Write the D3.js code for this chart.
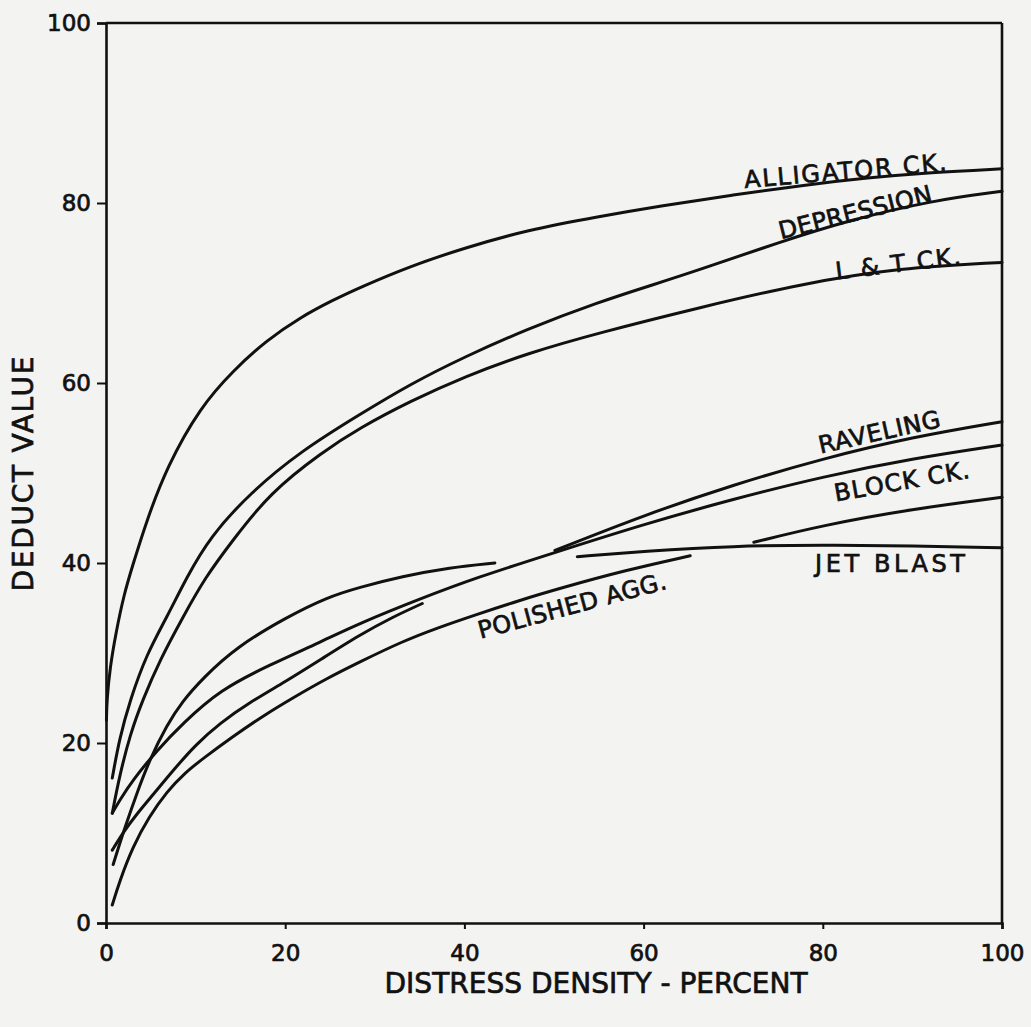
<!DOCTYPE html>
<html>
<head>
<meta charset="utf-8">
<script src="https://cdn.jsdelivr.net/npm/d3@7"></script>
<style>
  html, body { margin: 0; padding: 0; background: #f3f3f1; }
  svg { display: block; }
  text { font-family: "DejaVu Sans", "Liberation Sans", sans-serif; fill: #111; stroke: #111; stroke-width: 0.7px; }
</style>
</head>
<body>
<svg id="chart" width="1031" height="1027"></svg>
<script>
// Deduct value curves for asphalt-surfaced airfield pavements.
// Each series is [distress density %, deduct value]; null marks a break where
// the drafted curve is interrupted to let another curve cross.
const alligatorCk = [[0.05,22.5],[0.1,24.8],[0.45,28.4],[1.1,32.2],[2,36.5],[3,39.8],[4.5,44.6],
  [6.8,50.7],[10.5,57.3],[14.2,61.4],[18,64.8],[21.7,67.3],[25.3,69.2],[28.3,70.6],[34,73],
  [40,75],[47,77],[55,78.5],[62,79.7],[70,80.9],[78,82],[85,82.8],[92,83.4],[100,83.8]];

const depression = [[0.7,16.1],[1.5,20.5],[2.7,24.8],[4.5,29.8],[6.8,34],[9,38.4],[11.6,42.9],
  [16.1,47.8],[21.7,52.4],[28.3,56.5],[34,59.9],[40,62.9],[47,66],[55,69],[61,70.9],
  [66.3,72.6],[75,75.6],[83,78.1],[92.3,80.3],[100,81.3]];

const ltCk = [[0.7,12.2],[1.5,16.3],[2.7,21],[4.1,24.8],[6,29.2],[8.6,34],[11,38.3],[14.2,42.6],
  [18.3,47.8],[24.1,52.3],[28.3,55],[34,58],[40,60.7],[47,63.3],[55.1,65.6],[66.3,68.4],
  [77.5,71],[88.6,72.8],[100,73.4]];

const raveling = [[0.7,8.1],[2,10.2],[3.5,12.2],[5.2,14.2],[7.7,17.2],[10,19.8],[12.7,22.2],
  [16,24.5],[20,26.8],[24,29.3],[28.3,32],[32,34],[35.3,35.5], null,
  [50.1,41.4],[60,45.3],[70,48.7],[80,51.6],[90,54],[100,55.7]];

const blockCk = [[0.7,12.2],[1.5,13.6],[3,15.9],[5.7,19.2],[8.6,22.2],[12.7,25.9],[18.3,28.7],
  [23.9,31.2],[28.3,33.3],[35,36],[41.4,38.4],[49.9,41.1],[60,44.3],[70,47.1],[80,49.6],
  [90,51.6],[100,53.1]];

const jetBlast = [[0.8,6.5],[2,10.3],[3.5,14.6],[4.9,18.2],[6.8,22],[8.5,24.6],[10.8,27.2],
  [14.6,30.7],[20.2,34],[24.7,36.2],[28.3,37.3],[33,38.5],[38.4,39.5],[43.4,40], null,
  [52.6,40.7],[60,41.3],[70,41.9],[80,42],[90,41.9],[100,41.7]];

const polishedAgg = [[0.7,2],[1.5,4.6],[3,8.5],[4.8,11.8],[6.8,14.6],[8.8,16.7],[11,18.4],
  [14,20.6],[17.5,23],[21,25.1],[24.5,27.1],[28.3,29],[33.1,31.3],[37,32.8],[41.4,34.3],
  [46,35.8],[50.7,37.2],[58,39.2],[65.2,40.8], null,
  [72.3,42.3],[80,44.2],[90,46],[100,47.3]];

const curveNames = ["ALLIGATOR CK.", "DEPRESSION", "L & T CK.", "RAVELING", "BLOCK CK.", "JET BLAST", "POLISHED AGG."];
const xTicks = [0, 20, 40, 60, 80, 100];
const yTicks = [0, 20, 40, 60, 80, 100];
const xTitle = "DISTRESS DENSITY - PERCENT";
const yTitle = "DEDUCT VALUE";

const series = [alligatorCk, depression, ltCk, raveling, blockCk, jetBlast, polishedAgg]
  .map((values, i) => ({ name: curveNames[i], values }));

// Where each curve name sits (data units), its tilt and its set length in px.
const labelPlacement = {
  "ALLIGATOR CK.": { x: 82.5, y: 83.6, angle: -5,  length: 203 },
  "DEPRESSION":    { x: 83.6, y: 79.0, angle: -14, length: 157 },
  "L & T CK.":     { x: 88.4, y: 73.3, angle: -7,  length: 126 },
  "RAVELING":      { x: 86.3, y: 54.6, angle: -12.5, length: 124 },
  "BLOCK CK.":     { x: 88.8, y: 49.1, angle: -10, length: 137 },
  "JET BLAST":     { x: 87.5, y: 40.0, angle: 0,   length: 150 },
  "POLISHED AGG.": { x: 52.0, y: 35.3, angle: -15, length: 194 }
};

const ink = "#111";
const svg = d3.select("#chart");
const x = d3.scaleLinear().domain([0, 100]).range([106, 1002]);
const y = d3.scaleLinear().domain([0, 100]).range([923, 23]);

// Left and bottom axes
const yAxis = svg.append("g")
  .attr("transform", `translate(${x(0)},0)`)
  .call(d3.axisLeft(y).tickValues(yTicks).tickSize(9).tickPadding(6).tickFormat(d3.format("d")));
const xAxis = svg.append("g")
  .attr("transform", `translate(0,${y(0)})`)
  .call(d3.axisBottom(x).tickValues(xTicks).tickSize(6).tickPadding(16).tickFormat(d3.format("d")));

[yAxis, xAxis].forEach(g => {
  g.select(".domain").attr("stroke", ink).attr("stroke-width", 2.6);
  g.selectAll(".tick line").attr("stroke", ink).attr("stroke-width", 2);
  g.selectAll(".tick text").attr("font-size", 23).attr("fill", ink)
    .style("font-family", '"DejaVu Sans", sans-serif');
});

// Top and right frame lines
svg.append("line")
  .attr("x1", x(0)).attr("x2", x(100)).attr("y1", y(100)).attr("y2", y(100))
  .attr("stroke", ink).attr("stroke-width", 2.6);
svg.append("line")
  .attr("x1", x(100)).attr("x2", x(100)).attr("y1", y(100)).attr("y2", y(0))
  .attr("stroke", ink).attr("stroke-width", 2.6);

// Curves
const line = d3.line()
  .defined(d => d !== null)
  .x(d => x(d[0]))
  .y(d => y(d[1]))
  .curve(d3.curveBasis);

svg.append("g")
  .selectAll("path")
  .data(series)
  .join("path")
  .attr("d", d => line(d.values))
  .attr("fill", "none")
  .attr("stroke", ink)
  .attr("stroke-width", 3)
  .attr("stroke-linecap", "round")
  .attr("stroke-linejoin", "round");

// Curve names
svg.append("g")
  .selectAll("text")
  .data(series)
  .join("text")
  .attr("transform", d => {
    const p = labelPlacement[d.name];
    return `translate(${x(p.x)},${y(p.y)}) rotate(${p.angle})`;
  })
  .attr("text-anchor", "middle")
  .attr("dy", "0.36em")
  .attr("font-size", 24)
  .attr("textLength", d => labelPlacement[d.name].length)
  .attr("lengthAdjust", "spacing")
  .text(d => d.name);

// Axis titles
svg.append("text")
  .attr("x", (x(0) + x(100)) / 2 + 42)
  .attr("y", 993)
  .attr("text-anchor", "middle")
  .attr("font-size", 28)
  .attr("textLength", 423)
  .attr("lengthAdjust", "spacing")
  .text(xTitle);

svg.append("text")
  .attr("transform", `translate(33,474) rotate(-90)`)
  .attr("text-anchor", "middle")
  .attr("font-size", 28)
  .attr("textLength", 235)
  .attr("lengthAdjust", "spacing")
  .text(yTitle);
</script>
</body>
</html>
